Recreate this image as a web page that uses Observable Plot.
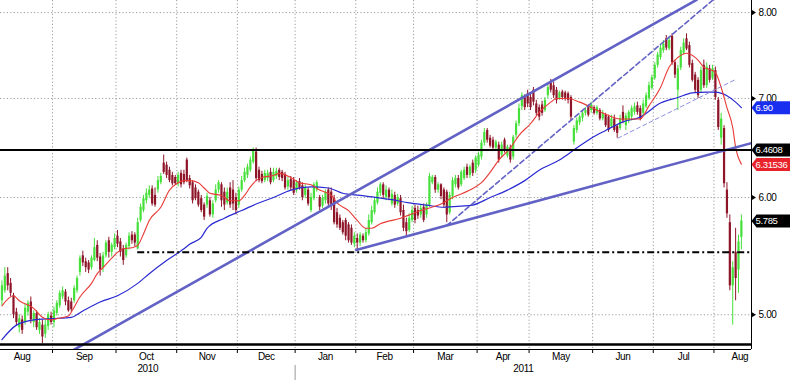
<!DOCTYPE html>
<html><head><meta charset="utf-8">
<script src="https://cdn.jsdelivr.net/npm/d3@7"></script>
<script src="https://cdn.jsdelivr.net/npm/@observablehq/plot@0.6"></script>
<style>
html,body{margin:0;padding:0;background:#fff;}
#chart{width:790px;height:380px;overflow:hidden;}
#chart svg text{letter-spacing:-0.35px;}
</style></head><body><div id="chart"></div>
<script>
// ---- daily OHLC (trading-day index 0..256, Aug 2010 – Aug 2011) ----
const open = [
5.11,5.19,5.33,5.25,5.15,5.02,4.90,4.96,4.94,5.02,
5.10,4.94,5.01,4.88,4.92,4.85,4.91,4.99,4.94,5.01,
5.07,5.14,5.18,5.11,5.10,5.11,5.19,5.34,5.48,5.43,
5.42,5.38,5.44,5.57,5.47,5.38,5.48,5.61,5.51,5.55,
5.65,5.60,5.54,5.48,5.56,5.66,5.66,5.54,5.79,5.88,
5.97,6.02,6.08,6.02,6.07,6.14,6.33,6.31,6.26,6.21,
6.19,6.13,6.23,6.22,6.36,6.18,6.14,6.09,6.05,5.99,
5.93,5.93,5.97,5.84,5.97,6.07,6.12,6.05,5.95,6.09,
6.07,6.00,5.93,6.07,6.16,6.21,6.26,6.34,6.44,6.26,
6.22,6.16,6.18,6.24,6.16,6.20,6.26,6.24,6.22,6.10,
6.17,6.16,6.07,6.15,6.11,6.02,6.07,5.88,5.99,6.07,
6.00,5.92,5.97,6.07,6.05,5.99,5.86,5.81,5.77,5.79,
5.75,5.72,5.58,5.63,5.59,5.65,5.61,5.67,5.77,5.86,
5.95,6.04,6.12,6.00,6.07,5.94,6.02,5.94,5.99,5.88,
5.77,5.70,5.79,5.90,5.88,5.84,5.91,5.84,5.93,6.14,
6.19,6.07,6.12,6.07,6.05,5.86,6.01,6.12,6.18,6.12,
6.18,6.29,6.21,6.33,6.26,6.31,6.39,6.53,6.66,6.58,
6.56,6.48,6.51,6.41,6.56,6.40,6.48,6.39,6.61,6.73,
6.91,7.01,7.05,7.01,7.09,6.94,6.90,6.93,6.87,7.03,
7.17,7.14,7.09,7.00,7.07,7.06,7.05,7.01,6.54,6.66,
6.74,6.79,6.84,6.90,6.87,6.90,6.84,6.87,6.78,6.82,
6.80,6.70,6.78,6.70,6.68,6.85,6.71,6.76,6.80,6.85,
6.92,6.89,6.84,6.91,7.00,7.11,7.22,7.37,7.46,7.54,
7.68,7.56,7.71,7.40,7.09,7.34,7.51,7.68,7.60,7.39,
7.26,7.20,7.09,7.37,7.14,7.33,7.22,7.31,6.98,6.58,
6.68,6.07,5.77,5.23,5.51,5.36,5.64];
const high = [
5.27,5.38,5.38,5.29,5.17,5.05,5.00,4.99,5.08,5.11,
5.14,5.03,5.03,4.97,4.96,4.96,5.02,5.02,5.06,5.11,
5.19,5.22,5.20,5.14,5.13,5.23,5.31,5.48,5.52,5.46,
5.44,5.48,5.63,5.61,5.50,5.51,5.61,5.64,5.59,5.67,
5.70,5.63,5.57,5.59,5.68,5.69,5.68,5.81,5.94,6.02,
6.08,6.11,6.11,6.09,6.20,6.23,6.41,6.34,6.29,6.24,
6.21,6.24,6.26,6.26,6.38,6.21,6.16,6.12,6.07,6.02,
5.95,6.04,6.00,5.97,6.12,6.16,6.14,6.09,6.09,6.14,
6.16,6.04,6.10,6.20,6.28,6.32,6.39,6.48,6.48,6.29,
6.25,6.26,6.26,6.28,6.28,6.28,6.28,6.26,6.24,6.19,
6.20,6.19,6.16,6.18,6.14,6.12,6.09,6.04,6.14,6.16,
6.02,6.02,6.07,6.09,6.09,6.02,5.90,5.84,5.79,5.81,
5.77,5.75,5.68,5.67,5.68,5.67,5.72,5.84,5.92,6.00,
6.09,6.14,6.14,6.11,6.09,6.07,6.05,6.03,6.02,5.93,
5.81,5.85,5.92,5.93,5.92,5.93,5.94,5.95,6.23,6.21,
6.21,6.14,6.13,6.09,6.07,6.05,6.19,6.21,6.21,6.26,
6.29,6.32,6.31,6.36,6.40,6.44,6.56,6.68,6.68,6.61,
6.59,6.56,6.54,6.54,6.58,6.51,6.51,6.61,6.76,6.94,
7.06,7.04,7.09,7.05,7.12,6.98,6.93,6.97,7.01,7.16,
7.21,7.18,7.12,7.08,7.09,7.08,7.07,7.03,6.71,6.79,
6.82,6.87,6.90,6.93,6.96,6.92,6.92,6.89,6.87,6.84,
6.82,6.82,6.82,6.72,6.82,6.92,6.84,6.87,6.92,6.95,
6.96,6.92,6.98,7.06,7.18,7.26,7.40,7.52,7.61,7.66,
7.72,7.70,7.74,7.43,7.37,7.58,7.68,7.74,7.64,7.43,
7.29,7.23,7.35,7.43,7.40,7.37,7.37,7.35,7.01,6.84,
6.71,6.14,5.84,5.43,5.72,5.66,5.84];
const low = [
5.07,5.17,5.19,5.14,4.97,4.91,4.86,4.85,4.92,4.99,
4.93,4.90,4.88,4.85,4.78,4.82,4.88,4.92,4.90,4.99,
5.05,5.12,5.07,5.02,5.02,5.09,5.17,5.31,5.39,5.34,
5.33,5.36,5.43,5.43,5.31,5.34,5.46,5.46,5.47,5.53,
5.55,5.47,5.40,5.46,5.53,5.58,5.56,5.53,5.77,5.86,
5.94,5.99,5.92,5.91,6.04,6.12,6.22,6.18,6.14,6.11,
6.12,6.10,6.09,6.12,6.14,6.08,5.94,5.97,5.91,5.86,
5.79,5.90,5.82,5.81,5.95,6.04,5.91,5.88,5.93,5.90,
5.88,5.84,5.90,6.05,6.14,6.18,6.24,6.32,6.15,6.14,
6.13,6.14,6.15,6.12,6.14,6.17,6.16,6.15,6.07,6.07,
6.06,6.02,6.04,6.07,5.97,5.99,5.92,5.86,5.97,6.05,
5.88,5.90,5.94,5.91,5.88,5.75,5.72,5.70,5.66,5.61,
5.59,5.57,5.55,5.52,5.56,5.59,5.59,5.65,5.75,5.84,
5.93,6.01,5.99,5.97,5.97,5.92,5.90,5.92,5.83,5.69,
5.65,5.68,5.77,5.76,5.80,5.81,5.77,5.81,5.91,6.12,
6.04,6.04,5.98,5.90,5.77,5.84,5.98,6.09,6.07,6.10,
6.16,6.18,6.18,6.20,6.23,6.29,6.36,6.50,6.53,6.48,
6.45,6.46,6.33,6.38,6.43,6.38,6.33,6.36,6.58,6.70,
6.87,6.87,6.90,6.87,6.92,6.81,6.76,6.81,6.85,7.00,
7.06,7.00,6.94,6.98,6.98,6.97,6.94,6.76,6.51,6.63,
6.71,6.75,6.81,6.80,6.84,6.82,6.82,6.76,6.76,6.69,
6.64,6.68,6.64,6.58,6.66,6.73,6.66,6.73,6.76,6.82,
6.82,6.76,6.81,6.89,6.98,7.09,7.20,7.34,7.43,7.51,
7.54,7.54,7.37,7.22,6.87,7.31,7.49,7.54,7.34,7.18,
7.06,7.00,7.06,7.11,7.11,7.17,7.20,6.98,6.66,6.51,
6.09,5.81,5.19,4.92,5.11,5.17,5.53];
const close = [
5.23,5.31,5.23,5.17,5.00,4.94,4.97,4.88,5.05,5.09,
4.96,5.01,4.90,4.94,4.83,4.92,5.00,4.94,5.03,5.09,
5.17,5.19,5.10,5.03,5.04,5.21,5.29,5.46,5.42,5.38,
5.36,5.46,5.55,5.46,5.36,5.48,5.59,5.51,5.57,5.63,
5.58,5.51,5.44,5.57,5.65,5.61,5.59,5.77,5.91,5.99,
6.04,6.07,5.94,5.93,6.16,6.20,6.24,6.21,6.16,6.13,
6.13,6.21,6.12,6.14,6.16,6.11,5.97,5.99,5.93,5.88,
5.82,6.01,5.84,5.94,6.07,6.14,5.97,5.93,6.05,5.93,
5.94,5.88,6.07,6.16,6.24,6.29,6.36,6.45,6.18,6.16,
6.15,6.23,6.23,6.14,6.24,6.25,6.19,6.18,6.09,6.16,
6.09,6.04,6.14,6.09,6.00,6.09,5.94,6.00,6.12,6.14,
5.91,5.99,6.05,5.94,5.92,5.77,5.75,5.72,5.68,5.65,
5.61,5.59,5.65,5.59,5.66,5.61,5.68,5.79,5.88,5.97,
6.05,6.12,6.02,6.07,6.00,6.03,5.93,6.00,5.86,5.72,
5.69,5.81,5.88,5.79,5.83,5.90,5.79,5.93,6.20,6.19,
6.07,6.12,6.01,5.93,5.84,6.02,6.16,6.18,6.09,6.24,
6.26,6.21,6.29,6.23,6.38,6.41,6.53,6.64,6.56,6.50,
6.48,6.54,6.36,6.51,6.46,6.49,6.36,6.59,6.73,6.89,
7.03,6.90,6.94,6.90,6.96,6.84,6.80,6.84,6.98,7.12,
7.09,7.03,6.98,7.06,7.01,7.00,6.98,6.80,6.68,6.76,
6.80,6.84,6.87,6.82,6.93,6.84,6.90,6.78,6.84,6.71,
6.66,6.78,6.66,6.63,6.78,6.76,6.81,6.85,6.89,6.91,
6.85,6.78,6.94,7.03,7.14,7.23,7.37,7.49,7.57,7.62,
7.57,7.66,7.40,7.26,7.33,7.54,7.63,7.56,7.37,7.20,
7.09,7.03,7.31,7.14,7.35,7.20,7.33,7.01,6.69,6.78,
6.13,5.85,5.23,5.38,5.29,5.60,5.785];

// ---- moving averages (day index, value) ----
const fastMaDay = [0,4,6,11,14,17,19,23,24,27,31,33,35,38,40,42,45,47,49,51,55,58,61,63,65,68,70,72,76,79,82,84,86,88,90,94,96,100,103,107,110,114,116,120,123,126,128,131,138,145,152,156,162,166,169,172,176,179,183,186,190,192,196,200,205,209,214,221,224,228,231,234,237,241,243,246,247,249,251,253,254,256];
const fastMaVal = [5.07,5.15,5.11,5.05,4.98,4.96,4.97,4.99,5.02,5.14,5.25,5.33,5.38,5.46,5.51,5.54,5.55,5.57,5.67,5.79,5.91,6.07,6.14,6.16,6.16,6.14,6.09,6.04,6.02,5.97,5.97,6.02,6.10,6.16,6.19,6.21,6.23,6.19,6.14,6.12,6.07,6.02,5.95,5.88,5.79,5.72,5.72,5.76,5.81,5.88,5.94,6.00,6.07,6.14,6.24,6.36,6.48,6.61,6.73,6.85,6.96,7.00,7.00,6.96,6.89,6.83,6.78,6.78,6.92,7.12,7.35,7.46,7.51,7.43,7.35,7.31,7.29,7.12,6.90,6.69,6.49,6.32];
const slowMaDay = [0,5,11,17,24,28,34,40,47,51,57,63,65,69,71,77,83,88,94,100,107,113,118,124,130,135,141,147,153,159,163,169,175,181,186,193,198,204,209,215,221,228,234,239,244,247,251,254,256];
const slowMaVal = [4.81,4.92,4.96,4.97,4.98,5.03,5.10,5.15,5.25,5.33,5.44,5.54,5.58,5.64,5.72,5.81,5.88,5.94,6.00,6.07,6.10,6.09,6.04,6.02,6.00,5.98,5.95,5.93,5.91,5.92,5.93,6.00,6.07,6.16,6.26,6.36,6.46,6.58,6.66,6.75,6.80,6.95,7.01,7.06,7.07,7.07,7.03,6.96,6.90];

// ---- drawn analysis lines (day index, price) ----
const upperChannel = [{day:24.5, price:4.73},{day:240.5, price:8.16}];
const supportLine  = [{day:122.6, price:5.53},{day:259.5, price:6.53}];
const steepLine    = [{day:154, price:5.745},{day:246.2, price:8.16}];
const thinLine     = [{day:213.2, price:6.58},{day:254, price:7.21}];
const resistance = [6.4608];
const floorLevel = [4.774];
const dashLevel = [{price:5.51, fromDay:47}];

// ---- axes ----
const monthNames = ["Aug","Sep","Oct","Nov","Dec","Jan","Feb","Mar","Apr","May","Jun","Jul","Aug"];
const monthStarts = [18,40,61,82,102,123,143,165,183,205,226,247];
const labelSpanStart = -3, labelSpanEnd = 265;
const yearNames = ["2010","2011"];
const yearStart = 102;
const yTicks = [5,6,7,8];
const priceTags = [
  {label:"6.90", value:6.90, kind:"slow"},
  {label:"6.4608", value:6.4608, kind:"level"},
  {label:"6.31536", value:6.31536, kind:"fast"},
  {label:"5.785", value:5.785, kind:"last"}
];

// ---- build ----
const xDomain = [-0.5, 259.5];
const yDomain = [4.737, 8.152];
const tagColor = {slow:"#1a2ef0", level:"#000000", fast:"#e8232b", last:"#000000"};
const UP = "#45e03a", DOWN = "#8e1428";
const candles = close.map((c,i)=>({day:i, o:open[i], h:high[i], l:low[i], c}));
const ups = candles.filter(d=>d.c>=d.o), downs = candles.filter(d=>d.c<d.o);
const fastMa = fastMaDay.map((d,i)=>({day:d, v:fastMaVal[i]}));
const slowMa = slowMaDay.map((d,i)=>({day:d, v:slowMaVal[i]}));
const monthTicks = monthStarts.map(s=>s-0.5);
const bounds = [labelSpanStart, ...monthStarts, labelSpanEnd];
const monthLabels = monthNames.map((n,k)=>({name:n, pos:(bounds[k]+bounds[k+1])/2 - 0.5}));
const yearLabels = [
  {name:yearNames[0], pos:(xDomain[0] + yearStart - 0.5)/2},
  {name:yearNames[1], pos:(yearStart - 0.5 + xDomain[1])/2}
];
const tagShape = {draw(ctx){ctx.moveTo(0,0);ctx.lineTo(5,-6.5);ctx.lineTo(39,-6.5);ctx.lineTo(39,6.5);ctx.lineTo(5,6.5);ctx.closePath();}};
const triRight = {draw(ctx){ctx.moveTo(0,-2.8);ctx.lineTo(4.5,0);ctx.lineTo(0,2.8);ctx.closePath();}};
const lineBlue = "#6262c6";
const grid = {stroke:"#9c9c9c", strokeDasharray:"1.2,2.2", strokeWidth:1};

const chart = Plot.plot({
  width: 790, height: 380,
  marginLeft: 0, marginRight: 39, marginTop: 0, marginBottom: 31,
  style: {fontFamily:"'Liberation Sans Narrow','Arial Narrow','Liberation Sans',Arial,sans-serif", fontSize:"10px", background:"#fff", color:"#000"},
  color: {type:"identity"},
  x: {type:"linear", domain:xDomain, ticks:monthTicks, tickFormat:()=>"", tickSize:4, label:null},
  y: {type:"log", domain:yDomain, axis:"right", ticks:yTicks, tickFormat:d3.format(".2f"), tickSize:0, tickPadding:7, label:null},
  marks: [
    Plot.ruleY(yTicks, grid),
    Plot.ruleX(monthTicks, grid),
    // candles
    Plot.ruleX(ups, {x:"day", y1:"l", y2:"h", stroke:UP, strokeWidth:1}),
    Plot.ruleX(downs, {x:"day", y1:"l", y2:"h", stroke:DOWN, strokeWidth:1}),
    Plot.ruleX(ups, {x:"day", y1:"o", y2:"c", stroke:UP, strokeWidth:2.2}),
    Plot.ruleX(downs, {x:"day", y1:"o", y2:"c", stroke:DOWN, strokeWidth:2.2}),
    // moving averages
    Plot.line(slowMa, {x:"day", y:"v", stroke:"#2a2ad2", strokeWidth:1.2, curve:"monotone-x"}),
    Plot.line(fastMa, {x:"day", y:"v", stroke:"#e83a36", strokeWidth:1.1, curve:"monotone-x"}),
    // trend lines
    Plot.line(upperChannel, {x:"day", y:"price", stroke:lineBlue, strokeWidth:2.6, clip:true}),
    Plot.line(supportLine, {x:"day", y:"price", stroke:lineBlue, strokeWidth:2.6, clip:true}),
    Plot.line(steepLine, {x:"day", y:"price", stroke:lineBlue, strokeWidth:1.6, strokeDasharray:"5,3", clip:true}),
    Plot.line(thinLine, {x:"day", y:"price", stroke:"#8e8ee0", strokeWidth:1, strokeDasharray:"4,3", clip:true}),
    // horizontal levels
    Plot.ruleY(resistance, {stroke:"#000", strokeWidth:2}),
    Plot.ruleY(dashLevel, {y:"price", x1:"fromDay", x2:()=>xDomain[1], stroke:"#000", strokeWidth:2, strokeDasharray:"7,3,2,3"}),
    Plot.ruleY(floorLevel, {stroke:"#000", strokeWidth:2.5}),
    // axis lines
    Plot.ruleY([yDomain[0]], {stroke:"#000", strokeWidth:1}),
    Plot.ruleX([xDomain[1]], {stroke:"#000", strokeWidth:1}),
    Plot.dot(yTicks, {y:d=>d, frameAnchor:"right", symbol:triRight, fill:"#000", stroke:null}),
    // price tags
    Plot.dot(priceTags, {y:"value", frameAnchor:"right", symbol:tagShape, fill:d=>tagColor[d.kind], stroke:null}),
    Plot.text(priceTags, {y:"value", text:"label", frameAnchor:"right", textAnchor:"start", dx:4, fill:"#fff", fontSize:9.5}),
    // month & year labels
    Plot.text(monthLabels, {x:"pos", text:"name", frameAnchor:"bottom", dy:10, fill:"#000", fontSize:10}),
    Plot.text(yearLabels, {x:"pos", text:"name", frameAnchor:"bottom", dy:22, fill:"#000", fontSize:10}),
    Plot.ruleX([yearStart - 0.5], {stroke:"#999", insetTop:365, insetBottom:-31})
  ]
});
document.getElementById("chart").appendChild(chart);
</script></body></html>
